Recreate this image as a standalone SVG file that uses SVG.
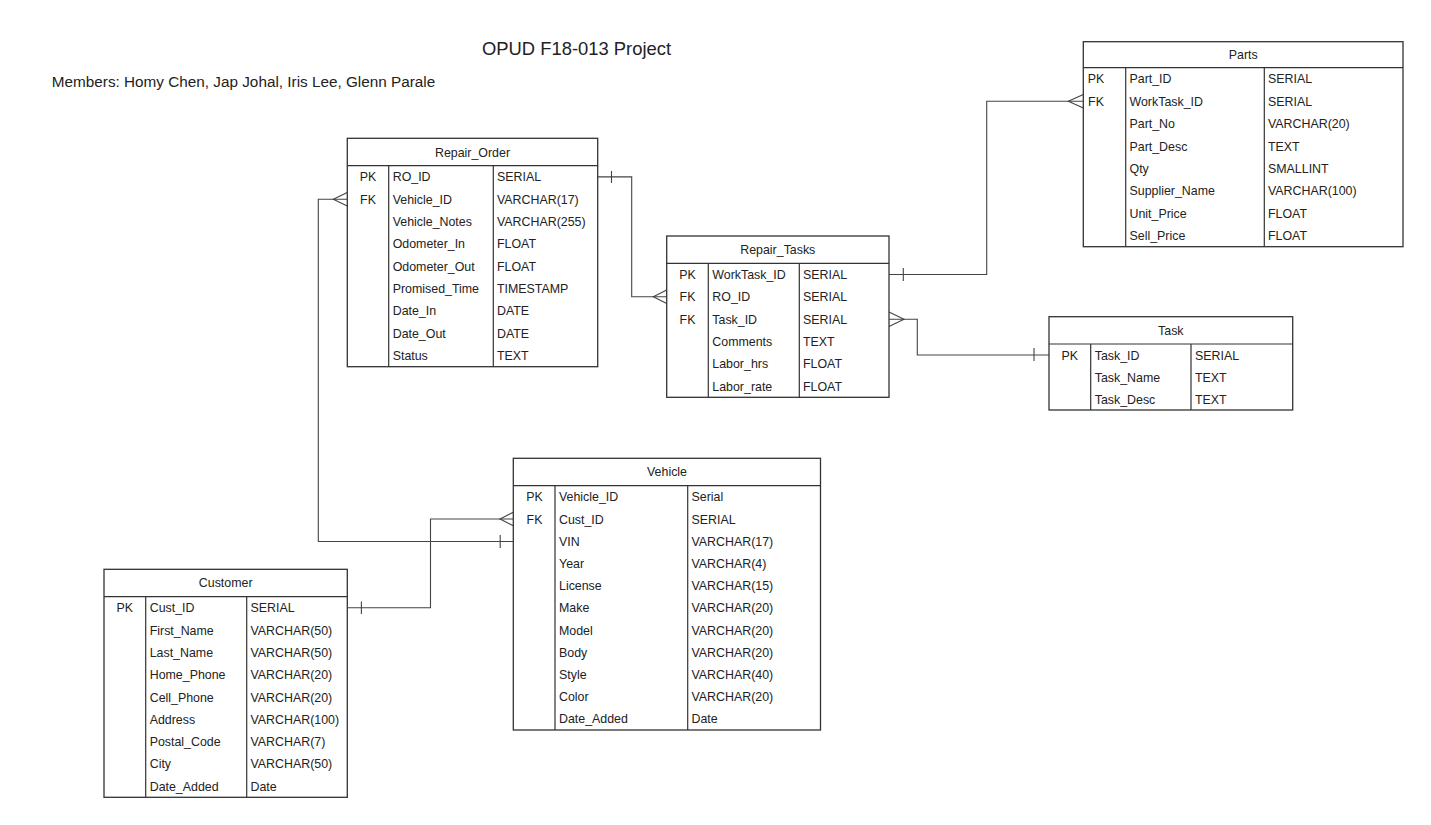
<svg xmlns="http://www.w3.org/2000/svg" width="1431" height="825" viewBox="0 0 1431 825">
<style>
  text { font-family: "Liberation Sans", Arial, sans-serif; fill: #222; }
  .t { font-size: 12.4px; }
  .h { font-size: 12.4px; text-anchor: middle; }
  .k { font-size: 12.4px; text-anchor: middle; }
  .box { fill: #fff; stroke: #333; stroke-width: 1.3; }
  .ln { fill: none; stroke: #333; stroke-width: 1.2; }
  .cn { fill: none; stroke: #444; stroke-width: 1.1; }
</style>
<rect width="1431" height="825" fill="#fff"/>
<text x="482" y="54.5" style="font-size:18.4px">OPUD F18-013 Project</text>
<text x="51.8" y="86.5" style="font-size:15.3px">Members: Homy Chen, Jap Johal, Iris Lee, Glenn Parale</text>

<g id="connectors">
  <!-- Vehicle -> Repair_Order -->
  <path class="cn" d="M513.3 541.5 H318.3 V199.2 H347.3"/>
  <path class="cn" d="M500.2 535 V548"/>
  <path class="cn" d="M347.3 192.5 L333.3 199.2 L347.3 206"/>
  <!-- Customer -> Vehicle -->
  <path class="cn" d="M347.3 607.8 H430.5 V519 H513.3"/>
  <path class="cn" d="M361.4 601.5 V614"/>
  <path class="cn" d="M513.3 512.3 L500 519 L513.3 525.7"/>
  <!-- Repair_Order -> Repair_Tasks -->
  <path class="cn" d="M597.7 176.9 H631.7 V296.8 H666.7"/>
  <path class="cn" d="M611.5 171 V183"/>
  <path class="cn" d="M666.7 290 L653.3 296.8 L666.7 303.6"/>
  <!-- Repair_Tasks -> Parts -->
  <path class="cn" d="M889 274.5 H986.7 V101.2 H1083.3"/>
  <path class="cn" d="M903.3 268 V281"/>
  <path class="cn" d="M1083.3 94.5 L1068.3 101.2 L1083.3 108"/>
  <!-- Repair_Tasks -> Task -->
  <path class="cn" d="M889 319.2 H917.3 V355 H1049"/>
  <path class="cn" d="M889 312 L904 319.2 L889 326.5"/>
  <path class="cn" d="M1034 348 V361"/>
</g>

<g id="repair_order">
  <rect class="box" x="347.3" y="138.3" width="250.4" height="228.4"/>
  <path class="ln" d="M347.3 165.7 H597.7 M388.7 165.7 V366.7 M493.3 165.7 V366.7"/>
  <text class="h" x="472.5" y="156.5">Repair_Order</text>
  <text class="k" x="368" y="181.4">PK</text>
  <text class="k" x="368" y="203.7">FK</text>
  <text class="t" x="392.7" y="181.4">RO_ID</text><text class="t" x="497" y="181.4">SERIAL</text>
  <text class="t" x="392.7" y="203.7">Vehicle_ID</text><text class="t" x="497" y="203.7">VARCHAR(17)</text>
  <text class="t" x="392.7" y="226">Vehicle_Notes</text><text class="t" x="497" y="226">VARCHAR(255)</text>
  <text class="t" x="392.7" y="248.3">Odometer_In</text><text class="t" x="497" y="248.3">FLOAT</text>
  <text class="t" x="392.7" y="270.7">Odometer_Out</text><text class="t" x="497" y="270.7">FLOAT</text>
  <text class="t" x="392.7" y="293">Promised_Time</text><text class="t" x="497" y="293">TIMESTAMP</text>
  <text class="t" x="392.7" y="315.3">Date_In</text><text class="t" x="497" y="315.3">DATE</text>
  <text class="t" x="392.7" y="337.7">Date_Out</text><text class="t" x="497" y="337.7">DATE</text>
  <text class="t" x="392.7" y="360">Status</text><text class="t" x="497" y="360">TEXT</text>
</g>

<g id="repair_tasks">
  <rect class="box" x="666.7" y="236" width="222.3" height="161.3"/>
  <path class="ln" d="M666.7 263.3 H889 M708.3 263.3 V397.3 M799.3 263.3 V397.3"/>
  <text class="h" x="777.8" y="254">Repair_Tasks</text>
  <text class="k" x="687.5" y="279">PK</text>
  <text class="k" x="687.5" y="301.3">FK</text>
  <text class="k" x="687.5" y="323.7">FK</text>
  <text class="t" x="712.3" y="279">WorkTask_ID</text><text class="t" x="803" y="279">SERIAL</text>
  <text class="t" x="712.3" y="301.3">RO_ID</text><text class="t" x="803" y="301.3">SERIAL</text>
  <text class="t" x="712.3" y="323.7">Task_ID</text><text class="t" x="803" y="323.7">SERIAL</text>
  <text class="t" x="712.3" y="346">Comments</text><text class="t" x="803" y="346">TEXT</text>
  <text class="t" x="712.3" y="368.3">Labor_hrs</text><text class="t" x="803" y="368.3">FLOAT</text>
  <text class="t" x="712.3" y="390.7">Labor_rate</text><text class="t" x="803" y="390.7">FLOAT</text>
</g>

<g id="parts">
  <rect class="box" x="1083.3" y="41.7" width="319.7" height="205"/>
  <path class="ln" d="M1083.3 67.7 H1403 M1125.7 67.7 V246.7 M1264.3 67.7 V246.7"/>
  <text class="h" x="1243.2" y="59">Parts</text>
  <text class="k" x="1096" y="83.4">PK</text>
  <text class="k" x="1096" y="105.7">FK</text>
  <text class="t" x="1129.5" y="83.4">Part_ID</text><text class="t" x="1268" y="83.4">SERIAL</text>
  <text class="t" x="1129.5" y="105.7">WorkTask_ID</text><text class="t" x="1268" y="105.7">SERIAL</text>
  <text class="t" x="1129.5" y="128.1">Part_No</text><text class="t" x="1268" y="128.1">VARCHAR(20)</text>
  <text class="t" x="1129.5" y="150.5">Part_Desc</text><text class="t" x="1268" y="150.5">TEXT</text>
  <text class="t" x="1129.5" y="172.9">Qty</text><text class="t" x="1268" y="172.9">SMALLINT</text>
  <text class="t" x="1129.5" y="195.2">Supplier_Name</text><text class="t" x="1268" y="195.2">VARCHAR(100)</text>
  <text class="t" x="1129.5" y="217.6">Unit_Price</text><text class="t" x="1268" y="217.6">FLOAT</text>
  <text class="t" x="1129.5" y="240">Sell_Price</text><text class="t" x="1268" y="240">FLOAT</text>
</g>

<g id="task">
  <rect class="box" x="1049" y="316.7" width="243.7" height="93.3"/>
  <path class="ln" d="M1049 344 H1292.7 M1090.7 344 V410 M1191 344 V410"/>
  <text class="h" x="1170.8" y="334.7">Task</text>
  <text class="k" x="1069.8" y="359.5">PK</text>
  <text class="t" x="1094.7" y="359.5">Task_ID</text><text class="t" x="1195" y="359.5">SERIAL</text>
  <text class="t" x="1094.7" y="381.5">Task_Name</text><text class="t" x="1195" y="381.5">TEXT</text>
  <text class="t" x="1094.7" y="403.5">Task_Desc</text><text class="t" x="1195" y="403.5">TEXT</text>
</g>

<g id="vehicle">
  <rect class="box" x="513.3" y="458.3" width="307.2" height="271.7"/>
  <path class="ln" d="M513.3 485.7 H820.5 M555 485.7 V730 M687.7 485.7 V730"/>
  <text class="h" x="667" y="476.3">Vehicle</text>
  <text class="k" x="534.5" y="501.3">PK</text>
  <text class="k" x="534.5" y="523.5">FK</text>
  <text class="t" x="559" y="501.3">Vehicle_ID</text><text class="t" x="691.5" y="501.3">Serial</text>
  <text class="t" x="559" y="523.5">Cust_ID</text><text class="t" x="691.5" y="523.5">SERIAL</text>
  <text class="t" x="559" y="545.7">VIN</text><text class="t" x="691.5" y="545.7">VARCHAR(17)</text>
  <text class="t" x="559" y="567.9">Year</text><text class="t" x="691.5" y="567.9">VARCHAR(4)</text>
  <text class="t" x="559" y="590.1">License</text><text class="t" x="691.5" y="590.1">VARCHAR(15)</text>
  <text class="t" x="559" y="612.3">Make</text><text class="t" x="691.5" y="612.3">VARCHAR(20)</text>
  <text class="t" x="559" y="634.5">Model</text><text class="t" x="691.5" y="634.5">VARCHAR(20)</text>
  <text class="t" x="559" y="656.7">Body</text><text class="t" x="691.5" y="656.7">VARCHAR(20)</text>
  <text class="t" x="559" y="678.9">Style</text><text class="t" x="691.5" y="678.9">VARCHAR(40)</text>
  <text class="t" x="559" y="701.1">Color</text><text class="t" x="691.5" y="701.1">VARCHAR(20)</text>
  <text class="t" x="559" y="723.3">Date_Added</text><text class="t" x="691.5" y="723.3">Date</text>
</g>

<g id="customer">
  <rect class="box" x="104" y="569.3" width="243.3" height="228"/>
  <path class="ln" d="M104 596.7 H347.3 M145.7 596.7 V797.3 M246.7 596.7 V797.3"/>
  <text class="h" x="225.7" y="587.3">Customer</text>
  <text class="k" x="124.8" y="612.3">PK</text>
  <text class="t" x="149.7" y="612.3">Cust_ID</text><text class="t" x="250.5" y="612.3">SERIAL</text>
  <text class="t" x="149.7" y="634.6">First_Name</text><text class="t" x="250.5" y="634.6">VARCHAR(50)</text>
  <text class="t" x="149.7" y="656.9">Last_Name</text><text class="t" x="250.5" y="656.9">VARCHAR(50)</text>
  <text class="t" x="149.7" y="679.2">Home_Phone</text><text class="t" x="250.5" y="679.2">VARCHAR(20)</text>
  <text class="t" x="149.7" y="701.5">Cell_Phone</text><text class="t" x="250.5" y="701.5">VARCHAR(20)</text>
  <text class="t" x="149.7" y="723.8">Address</text><text class="t" x="250.5" y="723.8">VARCHAR(100)</text>
  <text class="t" x="149.7" y="746.1">Postal_Code</text><text class="t" x="250.5" y="746.1">VARCHAR(7)</text>
  <text class="t" x="149.7" y="768.4">City</text><text class="t" x="250.5" y="768.4">VARCHAR(50)</text>
  <text class="t" x="149.7" y="790.7">Date_Added</text><text class="t" x="250.5" y="790.7">Date</text>
</g>
</svg>
